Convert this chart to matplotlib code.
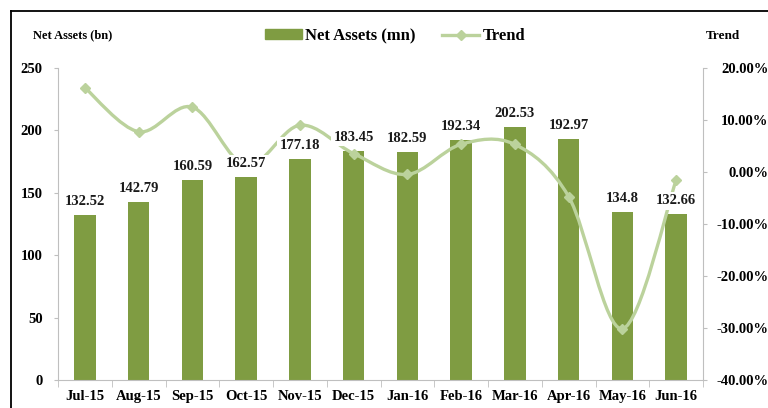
import matplotlib.pyplot as plt
import numpy as np
from matplotlib.path import Path
from matplotlib.patches import PathPatch, Patch
from matplotlib.lines import Line2D

months = ["Jul-15", "Aug-15", "Sep-15", "Oct-15", "Nov-15", "Dec-15",
          "Jan-16", "Feb-16", "Mar-16", "Apr-16", "May-16", "Jun-16"]
net_assets = [132.52, 142.79, 160.59, 162.57, 177.18, 183.45,
              182.59, 192.34, 202.53, 192.97, 134.8, 132.66]
bar_labels = ["132.52", "142.79", "160.59", "162.57", "177.18", "183.45",
              "182.59", "192.34", "202.53", "192.97", "134.8", "132.66"]
trend = [0.162, 0.0775, 0.1247, 0.0123, 0.0899, 0.0354,
         -0.0047, 0.0534, 0.0530, -0.0472, -0.3014, -0.0159]
trend_ticks = [-0.4, -0.3, -0.2, -0.1, 0.0, 0.1, 0.2]
trend_tick_labels = ["-40.00%", "-30.00%", "-20.00%", "-10.00%",
                     "0.00%", "10.00%", "20.00%"]

BAR = "#7f9c42"
LINE = "#bbd29c"
GRAY = "#bfbfbf"
plt.rcParams['font.family'] = ['Liberation Serif', 'DejaVu Serif']
plt.rcParams['font.weight'] = 'bold'

fig = plt.figure(figsize=(7.68, 4.08), dpi=100)
ax = fig.add_axes([58/768, 1-380/408, (703-58)/768, (380-68)/408])
ax2 = ax.twinx()

x = np.arange(len(months))
ax.bar(x, net_assets, width=0.4, color=BAR, zorder=2)
ax.set_xlim(-0.5, len(months)-0.5)
ax.set_ylim(0, 250)
ax.set_yticks(range(0, 251, 50))
ax.set_xticks(x)
ax.set_xticklabels(months, fontsize=10.5, fontweight='bold')
ax.set_xticks(np.arange(-0.5, len(months), 1), minor=True)
ax.tick_params(axis='x', which='major', length=0, pad=7)
ax.tick_params(axis='x', which='minor', length=5, color=GRAY)
ax.tick_params(axis='y', length=3, color=GRAY, pad=8, labelsize=10.5)

ax2.set_ylim(-0.4, 0.2)
ax2.set_yticks(trend_ticks)
ax2.set_yticklabels(trend_tick_labels, fontsize=10.5, fontweight='bold',
                    ha='right')
# labels right-aligned against the picture edge
ax2.tick_params(axis='y', length=3, color=GRAY, pad=44)

for a in (ax, ax2):
    for s in a.spines.values():
        s.set_visible(False)
ax.spines['left'].set_visible(True)
ax.spines['left'].set_color(GRAY)
ax.spines['bottom'].set_visible(True)
ax.spines['bottom'].set_color(GRAY)
ax2.spines['right'].set_visible(True)
ax2.spines['right'].set_color(GRAY)

# smoothed trend line (bezier through the points, like Excel)
pts = np.column_stack([x, trend])
verts = [pts[0]]
codes = [Path.MOVETO]
n = len(pts)
for i in range(n-1):
    p0 = pts[max(i-1, 0)]
    p1 = pts[i]
    p2 = pts[i+1]
    p3 = pts[min(i+2, n-1)]
    c1 = p1 + (p2 - p0) / 6
    c2 = p2 - (p3 - p1) / 6
    verts += [c1, c2, p2]
    codes += [Path.CURVE4] * 3
ax2.add_patch(PathPatch(Path(verts, codes), fill=False, edgecolor=LINE,
                        lw=2.4, zorder=3, capstyle='round'))
ax2.plot(x, trend, linestyle='none', marker='D', markersize=5,
         color=LINE, zorder=4)

for xi, v, lab in zip(x, net_assets, bar_labels):
    ax2.annotate(lab, (xi, v), xycoords=ax.transData, xytext=(0, 5),
                 textcoords='offset points', ha='center', va='bottom',
                 fontsize=10.5, fontweight='bold', color='#1a1a1a', zorder=6,
                 bbox=dict(boxstyle='square,pad=0.15', fc='white', ec='none'))

fig.text(33/768, 1-35/408, "Net Assets (bn)", fontsize=9, fontweight='bold',
         va='center', ha='left')
fig.text(706/768, 1-36/408, "Trend", fontsize=9.5, fontweight='bold',
         va='center', ha='left')

handles = [Patch(color=BAR), Line2D([], [], color=LINE, lw=2.4, marker='D',
                                    markersize=5)]
fig.legend(handles, ["Net Assets (mn)", "Trend"], loc='center',
           bbox_to_anchor=(395/768, 1-36/408), ncol=2, frameon=False,
           prop={'family': 'Liberation Serif', 'weight': 'bold', 'size': 12},
           handlelength=2.2, handleheight=0.5, handletextpad=0.2,
           columnspacing=1.6)

# outer frame (cropped at right and bottom)
fig.add_artist(Line2D([11/768, 11/768], [-0.1, 1-11/408], color='black',
                      lw=1.3, transform=fig.transFigure))
fig.add_artist(Line2D([11/768, 1.1], [1-11/408, 1-11/408], color='black',
                      lw=1.3, transform=fig.transFigure))

fig.savefig("out.png", dpi=100)
